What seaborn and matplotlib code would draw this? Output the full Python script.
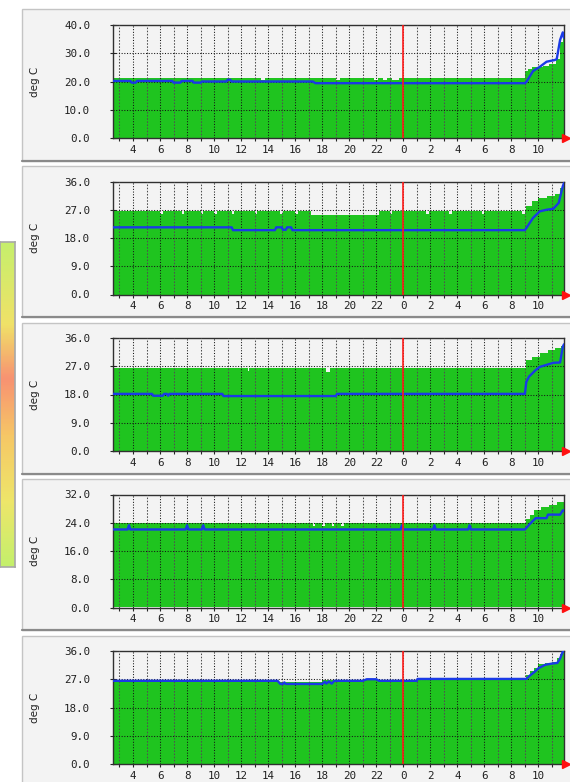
import numpy as np
import matplotlib
matplotlib.use("Agg")
import matplotlib.pyplot as plt
from matplotlib.patches import Rectangle
from matplotlib.lines import Line2D
from matplotlib.colors import LinearSegmentedColormap
import seaborn as sns

W, H = 570, 782

# time axis: hours since midnight of the first day (24 = midnight, 35.89 ~ 11:53 next day)
T_START, T_END = 2.52, 35.89
MIDNIGHT = 24.0

Y_MAX = [40, 36, 36, 32, 36]
Y_STEP = [10, 9, 9, 8, 9]
Y_LABEL = "deg C"

# ---- panel 1 ----
p1_max_t = [2.52, 13.5, 13.8, 19.0, 19.3, 21.8, 22.1, 22.5, 22.8, 23.2, 23.7,
            33.0, 33.25, 33.5, 34.3, 34.8, 35.3, 35.6, 35.8, 35.89]
p1_max_v = [21.3, 20.6, 21.3, 20.6, 21.3, 20.6, 21.3, 20.6, 21.3, 20.6, 21.3,
            23.7, 24.3, 25.0, 25.6, 26.3, 28.0, 34.0, 36.0, 36.0]
p1_avg_t = [2.52, 3.8, 3.9, 4.2, 4.3, 6.9, 7.0, 7.5, 7.6, 8.4, 8.5, 9.0, 9.1,
            10.9, 11.0, 11.2, 11.3, 17.3, 17.5, 33.0, 33.1, 33.6, 34.1, 34.6,
            35.2, 35.35, 35.6, 35.8, 35.89]
p1_avg_v = [20.2, 20.2, 19.6, 19.6, 20.2, 20.2, 19.6, 19.6, 20.2, 20.2, 19.6, 19.6, 20.0,
            20.0, 20.6, 20.6, 20.0, 20.0, 19.4, 19.4, 19.8, 23.7, 25.2, 27.0,
            27.6, 27.9, 34.7, 37.4, 35.4]

# ---- panel 2 ----
p2_max_t = [2.52, 6.0, 6.2, 7.6, 7.8, 9.0, 9.2, 10.0, 10.2, 11.3, 11.5, 13.0, 13.2,
            14.9, 15.1, 16.0, 16.2, 17.2, 22.2, 23.0, 23.2, 25.7, 25.9, 27.4, 27.6,
            29.8, 30.0, 32.8, 33.0, 33.1, 33.5, 34.0, 34.6, 35.2, 35.6, 35.8, 35.89]
p2_max_v = [26.6, 25.8, 26.6, 25.8, 26.6, 25.8, 26.6, 25.8, 26.6, 25.8, 26.6, 25.8, 26.6,
            25.8, 26.6, 25.8, 26.6, 25.3, 26.6, 25.8, 26.6, 25.8, 26.6, 25.8, 26.6,
            25.8, 26.6, 25.8, 26.6, 28.1, 29.7, 30.6, 31.3, 32.0, 34.0, 35.5, 35.5]
p2_avg_t = [2.52, 11.3, 11.4, 14.5, 14.6, 15.0, 15.1, 15.3, 15.4, 15.7, 15.8,
            33.0, 33.6, 34.1, 34.6, 35.1, 35.5, 35.8, 35.89]
p2_avg_v = [21.4, 21.4, 20.5, 20.5, 21.4, 21.4, 20.6, 20.6, 21.4, 21.4, 20.5,
            20.5, 24.4, 26.5, 27.0, 27.3, 29.2, 34.5, 35.5]

# ---- panel 3 ----
p3_max_t = [2.52, 12.5, 12.6, 18.3, 18.6, 33.1, 33.5, 34.1, 34.7, 35.2, 35.7, 35.89]
p3_max_v = [26.3, 25.5, 26.3, 25.3, 26.3, 29.0, 30.1, 31.3, 32.2, 32.8, 33.5, 33.5]
p3_avg_t = [2.52, 5.4, 5.5, 6.2, 6.3, 6.5, 6.6, 6.7, 10.6, 10.7, 19.0, 19.1,
            33.0, 33.1, 33.3, 33.8, 34.1, 35.1, 35.6, 35.8, 35.89]
p3_avg_v = [18.2, 18.2, 17.6, 17.6, 18.2, 18.2, 17.6, 18.2, 18.2, 17.5, 17.5, 18.2,
            18.2, 22.0, 23.7, 25.8, 26.8, 28.1, 28.2, 33.2, 34.0]

# ---- panel 4 ----
p4_max_t = [2.52, 17.3, 17.5, 18.0, 18.2, 18.7, 18.9, 19.4, 19.6,
            33.1, 33.4, 33.7, 34.2, 34.8, 35.4, 35.89]
p4_max_v = [23.9, 23.2, 23.9, 23.2, 23.9, 23.2, 23.9, 23.2, 23.9,
            25.1, 26.3, 27.7, 28.4, 28.9, 29.8, 29.8]
p4_avg_t = [2.52, 3.6, 3.7, 3.8, 7.9, 8.0, 8.1, 9.1, 9.2, 9.3, 23.8, 23.9, 24.0,
            26.2, 26.3, 26.4, 28.8, 28.9, 29.0, 33.0, 33.3, 33.5, 33.8, 34.6,
            34.7, 35.6, 35.8, 35.89]
p4_avg_v = [22.1, 22.1, 23.3, 22.1, 22.1, 23.3, 22.1, 22.1, 23.3, 22.1, 22.1, 23.3, 22.1,
            22.1, 23.3, 22.1, 22.1, 23.3, 22.1, 22.1, 23.4, 24.2, 25.3, 25.3,
            26.3, 26.3, 27.5, 27.5]

# ---- panel 5 ----
p5_max_t = [2.52, 14.7, 18.0, 25.0, 33.1, 33.4, 33.7, 34.0, 34.5, 35.0, 35.4, 35.6, 35.8, 35.89]
p5_max_v = [26.9, 26.0, 26.9, 27.4, 28.5, 29.5, 30.7, 31.8, 32.2, 32.4, 33.8, 35.0, 36.0, 36.0]
p5_avg_t = [2.52, 14.7, 14.9, 15.1, 15.2, 15.3, 18.0, 18.2, 18.3, 18.5, 18.7, 18.9,
            21.0, 21.3, 22.0, 22.2, 25.0, 25.05, 33.1, 33.4, 33.7, 34.0, 34.5,
            35.0, 35.4, 35.6, 35.8, 35.89]
p5_avg_v = [26.5, 26.5, 25.5, 25.5, 26.0, 25.5, 25.5, 26.2, 25.6, 26.3, 25.6, 26.5,
            26.5, 27.0, 27.0, 26.5, 26.5, 27.1, 27.1, 28.3, 29.3, 30.5, 31.6,
            32.0, 32.2, 33.6, 35.8, 36.0]

PANELS = [
    (p1_max_t, p1_max_v, p1_avg_t, p1_avg_v),
    (p2_max_t, p2_max_v, p2_avg_t, p2_avg_v),
    (p3_max_t, p3_max_v, p3_avg_t, p3_avg_v),
    (p4_max_t, p4_max_v, p4_avg_t, p4_avg_v),
    (p5_max_t, p5_max_v, p5_avg_t, p5_avg_v),
]

PLOT_TOPS = [25, 181.5, 338, 494.5, 651]
PLOT_LEFT, PLOT_W, PLOT_H = 113, 451, 113

GREEN = "#1fc41f"
BLUE = "#1a3ae6"
PANEL_BG = "#f3f3f3"

sns.set_style("ticks")
plt.rcParams["font.family"] = ["DejaVu Sans"]


def fig_rect(x, y, w, h):
    return [x / W, 1 - (y + h) / H, w / W, h / H]


def draw_panel(fig, i):
    max_t, max_v, avg_t, avg_v = PANELS[i]
    top = PLOT_TOPS[i]

    # panel frame, behind the axes
    bx, by, bw, bh = 22, top - 15.5, 560, 151
    r = fig_rect(bx, by, bw, bh)
    fig.patches.append(Rectangle((r[0], r[1]), r[2], r[3], transform=fig.transFigure,
                                 facecolor=PANEL_BG, edgecolor="#c4c4c4", lw=1.0, zorder=-5))
    fig.lines.append(Line2D([r[0], 1.0], [r[1], r[1]], transform=fig.transFigure,
                            color="#8a8a8a", lw=1.6, zorder=-4))

    ax = fig.add_axes(fig_rect(PLOT_LEFT, top, PLOT_W, PLOT_H))
    ax.set_zorder(2)
    ax.set_facecolor(PANEL_BG)
    ymax, ystep = Y_MAX[i], Y_STEP[i]

    ax.fill_between(max_t, max_v, 0, step="post", color=GREEN, lw=0, zorder=2)

    # grid: dotted at every hour, darker on the labelled hours
    for h in range(3, 36):
        if h % 2 == 0:
            ax.axvline(h, color="#151515", lw=0.75, ls=(0, (1, 1.6)), zorder=3)
        else:
            ax.axvline(h, color="#505050", lw=0.75, ls=(0, (1.5, 1.5)), zorder=3)
    yt = np.arange(0, ymax + 0.01, ystep)
    for y in yt[1:-1]:
        ax.axhline(y, color="#151515", lw=0.75, ls=(0, (1, 1.6)), zorder=3)

    sns.lineplot(x=avg_t, y=avg_v, ax=ax, color=BLUE, lw=1.7, estimator=None,
                 sort=False, zorder=4)
    ax.axvline(MIDNIGHT, color="#ff1a1a", lw=1.2, zorder=5)

    ax.set_xlim(T_START, T_END)
    ax.set_ylim(0, ymax)
    ax.set_xticks(range(4, 35, 2))
    ax.set_xticklabels([str(h % 24) for h in range(4, 35, 2)])
    ax.set_xticks(range(3, 36, 2), minor=True)
    ax.set_yticks(yt)
    ax.set_yticklabels([f"{v:.1f}" for v in yt])
    for lab in ax.get_xticklabels() + ax.get_yticklabels():
        lab.set_family("DejaVu Sans Mono")
        lab.set_fontsize(7.8)
        lab.set_color("#202020")
    ax.tick_params(axis="y", direction="inout", length=5, width=0.8, pad=14)
    ax.tick_params(axis="x", which="both", direction="inout", length=5, width=0.8, pad=2.5)
    for s in ax.spines.values():
        s.set_visible(True)
        s.set_color("#303030")
        s.set_linewidth(1.0)
    ax.set_xlabel("")
    ax.set_ylabel(Y_LABEL, fontsize=7.5, color="#202020")
    ax.yaxis.set_label_coords(-0.162, 0.5)

    # red arrow at end of x-axis
    ax.plot([T_END + 0.12], [0], marker=">", color="#ff1010", ms=5.5, clip_on=False, zorder=6)
    return ax


fig = plt.figure(figsize=(W / 100, H / 100), dpi=100)
fig.patch.set_facecolor("white")

for i in range(5):
    draw_panel(fig, i)

# gradient strip on the left edge
gax = fig.add_axes(fig_rect(0, 242, 15, 325))
cmap = LinearSegmentedColormap.from_list("strip", [
    (0.0, "#c6ef6c"), (0.25, "#f0e268"), (0.42, "#f89272"),
    (0.6, "#f6c866"), (0.8, "#eee66a"), (1.0, "#c4f06c")])
gax.imshow(np.linspace(0, 1, 200).reshape(-1, 1), cmap=cmap, aspect="auto")
gax.set_xticks([])
gax.set_yticks([])
for s in gax.spines.values():
    s.set_color("#a8a8a8")
    s.set_linewidth(1.2)

fig.savefig("out.png", dpi=100)
